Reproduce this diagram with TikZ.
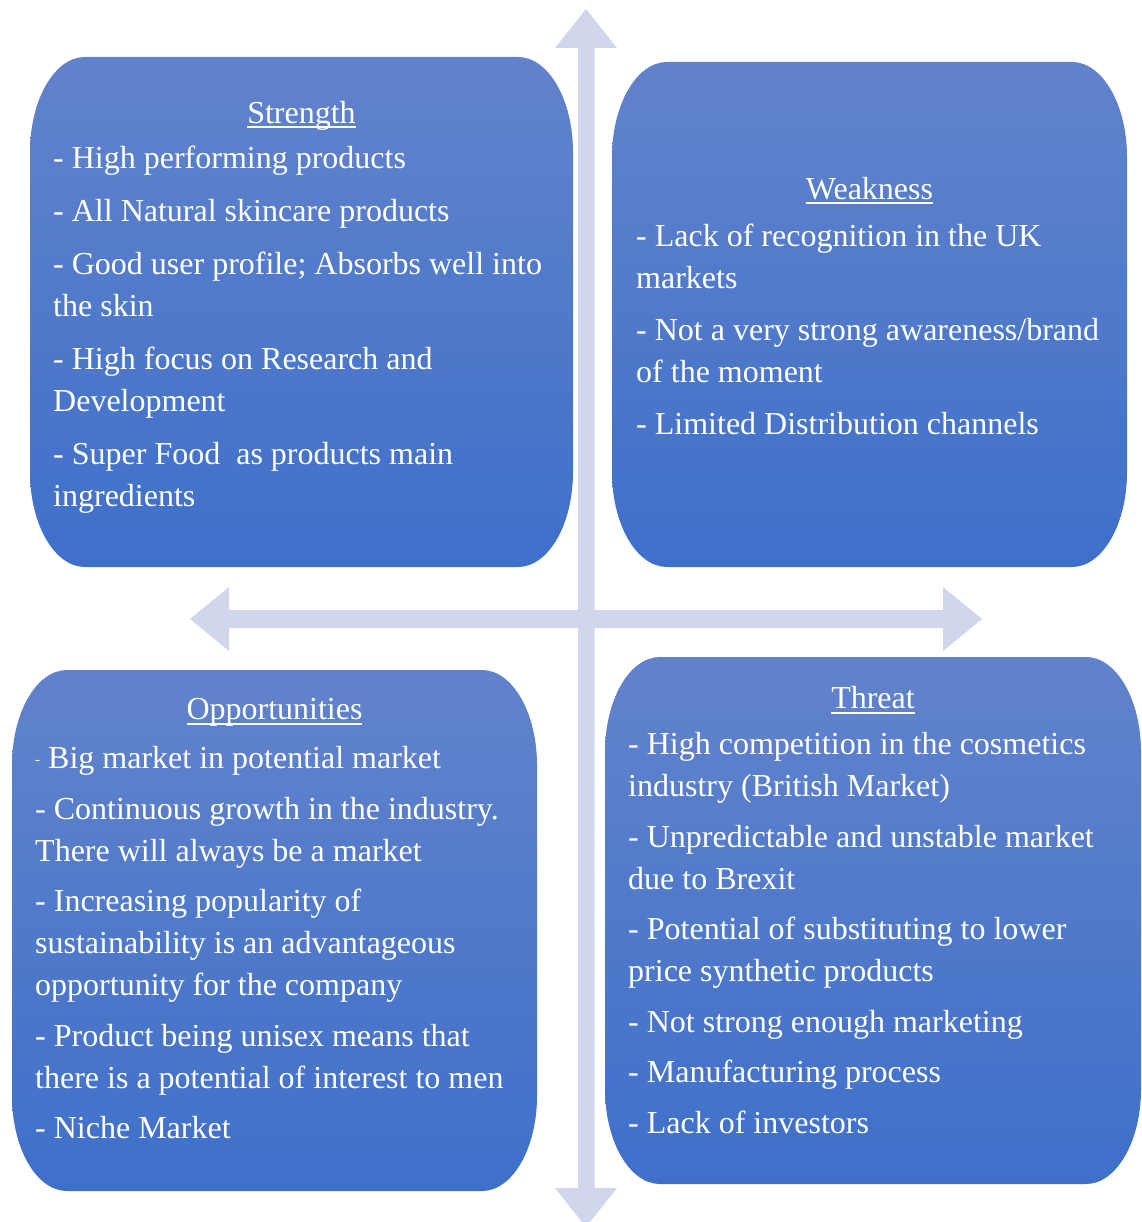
\documentclass[tikz,border=0pt]{standalone}
\usepackage{fontspec}
\setmainfont{Liberation Serif}
\definecolor{boxtop}{RGB}{98,131,203}
\definecolor{boxbot}{RGB}{62,112,202}
\definecolor{arrowcol}{RGB}{208,214,236}
\newsavebox\ulbox
\newcommand\myul[1]{\sbox\ulbox{#1}\rlap{\rule[-5pt]{\wd\ulbox}{2pt}}\usebox\ulbox}
\newcommand\roundbox[4]{%
  \shade[top color=boxtop, bottom color=boxbot]
  (#1,{#2+95}) .. controls (#1,{#2+42.5}) and ({#1+24.6},#2) .. ({#1+55},#2)
  -- ({#3-55},#2) .. controls ({#3-24.6},#2) and (#3,{#2+42.5}) .. (#3,{#2+95})
  -- (#3,{#4-95}) .. controls (#3,{#4-42.5}) and ({#3-24.6},#4) .. ({#3-55},#4)
  -- ({#1+55},#4) .. controls ({#1+24.6},#4) and (#1,{#4-42.5}) .. (#1,{#4-95}) -- cycle;}
\begin{document}
\begin{tikzpicture}[x=1pt,y=-1pt,
  titletext/.style={inner sep=0pt, anchor=base, text=white, font=\fontsize{32}{42}\selectfont},
  bodytext/.style={inner sep=0pt, anchor=north west, align=left, text=white, font=\fontsize{32}{42}\selectfont}]
\useasboundingbox (0,0) rectangle (1141,1222);
% cross of arrows
\fill[arrowcol] (586,9) -- (617,48) -- (594.5,48) -- (594.5,1188) -- (617,1188) -- (586,1227)
  -- (555,1188) -- (578,1188) -- (578,48) -- (555,48) -- cycle;
\fill[arrowcol] (190,619) -- (229,587) -- (229,610) -- (943,610) -- (943,587) -- (982,619)
  -- (943,651) -- (943,628) -- (229,628) -- (229,651) -- cycle;
% boxes
\roundbox{30}{57}{573}{567}
\roundbox{612}{62}{1127}{567}
\roundbox{12}{670}{537}{1191}
\roundbox{605}{657}{1141}{1184}
% Strength
\node[titletext] (stitle) at (301.5,123.2) {\myul{Strength}};
\node[bodytext] (sbody) at (53,143.5) {\rule{0pt}{25pt}- High performing products\\[11pt]
- All Natural skincare products\\[11pt]
- Good user profile; Absorbs well into\\
the skin\\[11pt]
- High focus on Research and\\
Development\\[11pt]
- Super Food \ as products main\\
ingredients};
% Weakness
\node[titletext] (wtitle) at (869.5,199.5) {\myul{Weakness}};
\node[bodytext] (wbody) at (636,221.5) {\rule{0pt}{25pt}- Lack of recognition in the UK\\
markets\\[10pt]
- Not a very strong awareness/brand\\
of the moment\\[10pt]
- Limited Distribution channels};
% Opportunities
\node[titletext] (otitle) at (274.5,719.5) {\myul{Opportunities}};
\node[bodytext] (obody) at (35,743.5) {\rule{0pt}{25pt}\raisebox{4pt}{\fontsize{15}{15}\selectfont -}\ Big market in potential market\\[8.5pt]
- Continuous growth in the industry.\\
There will always be a market\\[8.5pt]
- Increasing popularity of\\
sustainability is an advantageous\\
opportunity for the company\\[8.5pt]
- Product being unisex means that\\
there is a potential of interest to men\\[8.5pt]
- Niche Market};
% Threat
\node[titletext] (ttitle) at (873,708.5) {\myul{Threat}};
\node[bodytext] (tbody) at (628,729.5) {\rule{0pt}{25pt}- High competition in the cosmetics\\
industry (British Market)\\[8.5pt]
- Unpredictable and unstable market\\
due to Brexit\\[8.5pt]
- Potential of substituting to lower\\
price synthetic products\\[8.5pt]
- Not strong enough marketing\\[8.5pt]
- Manufacturing process\\[8.5pt]
- Lack of investors};
\end{tikzpicture}
\end{document}
